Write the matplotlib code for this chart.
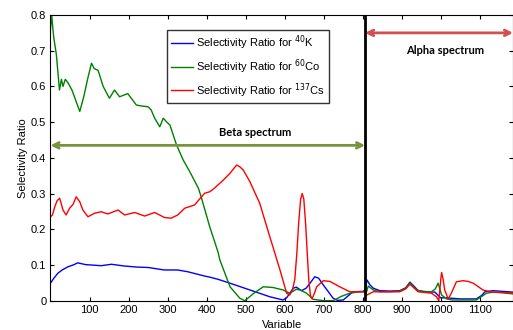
import matplotlib
matplotlib.use("Agg")
import matplotlib.pyplot as plt

plt.rcParams['font.family'] = ['Liberation Sans', 'DejaVu Sans']

# Selectivity ratio for 40K (blue)
k40_x = [0, 8, 19, 30, 45, 58, 70, 78, 90, 104, 130, 156, 190, 224, 250, 292, 326, 352, 395,
         408, 429, 460, 511, 562, 596, 605, 622, 630, 643, 655, 665, 677, 687, 699, 712, 724,
         735, 750, 775, 801, 806, 811, 818, 827, 844, 870, 895, 910, 921, 932, 942, 965, 985,
         993, 1000, 1015, 1050, 1091, 1105, 1113, 1134, 1160, 1185]
k40_y = [0.049, 0.062, 0.077, 0.086, 0.095, 0.100, 0.106, 0.104, 0.101, 0.100, 0.098, 0.102,
         0.097, 0.094, 0.093, 0.086, 0.086, 0.081, 0.069, 0.066, 0.060, 0.049, 0.030, 0.011,
         0.002, 0.008, 0.035, 0.038, 0.028, 0.035, 0.049, 0.067, 0.063, 0.044, 0.025, 0.007,
         0.001, 0.002, 0.025, 0.026, 0.030, 0.058, 0.045, 0.035, 0.028, 0.027, 0.028, 0.036,
         0.052, 0.040, 0.028, 0.025, 0.024, 0.015, 0.008, 0.008, 0.005, 0.005, 0.015, 0.025,
         0.028, 0.026, 0.024]

# Selectivity ratio for 60Co (green)
co60_x = [0, 3, 8, 15, 23, 28, 32, 38, 45, 50, 55, 65, 75, 85, 95, 105, 112, 122, 135, 151,
          164, 177, 198, 220, 235, 250, 258, 267, 280, 289, 298, 306, 323, 340, 357, 379, 386,
          408, 429, 434, 460, 485, 498, 520, 545, 570, 596, 613, 630, 640, 656, 673, 700, 724,
          745, 767, 790, 805, 810, 814, 827, 844, 870, 895, 910, 921, 930, 938, 955, 976, 986,
          993, 997, 1002, 1015, 1030, 1091, 1105, 1117, 1134, 1160, 1185]
co60_y = [0.76, 0.80, 0.74, 0.69, 0.59, 0.62, 0.60, 0.62, 0.61, 0.60, 0.59, 0.56, 0.53, 0.57,
          0.62, 0.665, 0.65, 0.645, 0.60, 0.567, 0.59, 0.571, 0.58, 0.548, 0.545, 0.543, 0.534,
          0.511, 0.487, 0.511, 0.50, 0.492, 0.436, 0.394, 0.361, 0.315, 0.291, 0.207, 0.137,
          0.114, 0.039, 0.007, 0.0, 0.020, 0.039, 0.037, 0.030, 0.021, 0.032, 0.030, 0.021,
          0.004, 0.0, 0.0, 0.012, 0.021, 0.025, 0.025, 0.025, 0.041, 0.030, 0.025, 0.025, 0.027,
          0.035, 0.050, 0.040, 0.030, 0.025, 0.025, 0.033, 0.049, 0.035, 0.016, 0.005, 0.002,
          0.002, 0.012, 0.021, 0.024, 0.022, 0.019]

# Selectivity ratio for 137Cs (red)
cs137_x = [0, 5, 11, 17, 23.5, 28, 32, 40, 49, 58, 66, 75, 83, 96, 113, 130, 147, 173, 190,
           216, 241, 267, 292, 309, 326, 344, 369, 395, 408, 420, 443, 460, 477, 485, 494, 511,
           536, 562, 588, 605, 613, 620, 626, 631, 636, 641, 645, 649, 654, 658, 662, 666, 670,
           676, 682, 699, 716, 741, 767, 801, 806, 811, 827, 870, 895, 910, 921, 932, 942, 976,
           989, 995, 1000, 1002, 1006, 1010, 1019, 1027, 1040, 1057, 1070, 1083, 1108, 1130,
           1160, 1185]
cs137_y = [0.235, 0.24, 0.263, 0.28, 0.287, 0.27, 0.254, 0.24, 0.259, 0.27, 0.291, 0.277,
           0.254, 0.235, 0.245, 0.249, 0.243, 0.254, 0.24, 0.247, 0.237, 0.247, 0.233, 0.231,
           0.24, 0.259, 0.268, 0.301, 0.305, 0.315, 0.338, 0.357, 0.38, 0.375, 0.366, 0.333,
           0.273, 0.179, 0.086, 0.021, 0.016, 0.030, 0.060, 0.13, 0.22, 0.285, 0.30, 0.285,
           0.21, 0.13, 0.055, 0.015, 0.005, 0.020, 0.039, 0.056, 0.054, 0.039, 0.025, 0.025,
           0.025, 0.016, 0.025, 0.025, 0.025, 0.033, 0.046, 0.035, 0.025, 0.021, 0.011, 0.0,
           0.06, 0.079, 0.06, 0.03, 0.005, 0.021, 0.053, 0.056, 0.054, 0.049, 0.03, 0.024,
           0.023, 0.022]

boundary = 806
beta_y = 0.435
alpha_y = 0.75

fig = plt.figure(figsize=(5.13, 3.30), dpi=100)
ax = fig.add_axes([0.0984, 0.0888, 0.9016, 0.8657])

ax.plot(k40_x, k40_y, color='b', lw=1, label='Selectivity Ratio for $^{40}$K')
ax.plot(co60_x, co60_y, color='g', lw=1, label='Selectivity Ratio for $^{60}$Co')
ax.plot(cs137_x, cs137_y, color='r', lw=1, label='Selectivity Ratio for $^{137}$Cs')

ax.axvline(boundary, color='k', lw=2)

ax.annotate('', xy=(0, beta_y), xytext=(boundary, beta_y),
            arrowprops=dict(arrowstyle='<->', color='#77933C', lw=2, shrinkA=0, shrinkB=0))
ax.annotate('', xy=(boundary, alpha_y), xytext=(1185, alpha_y),
            arrowprops=dict(arrowstyle='<->', color='#D05050', lw=2, shrinkA=0, shrinkB=0))
ax.text(524, 0.47, 'Beta spectrum', ha='center', va='center', fontsize=8,
        fontweight='bold', family='Lato')
ax.text(1011, 0.70, 'Alpha spectrum', ha='center', va='center', fontsize=8,
        fontweight='bold', family='Lato')

ax.set_xlim(0, 1185)
ax.set_ylim(0, 0.8)
ax.set_xticks([100, 200, 300, 400, 500, 600, 700, 800, 900, 1000, 1100])
ax.set_yticks([0, 0.1, 0.2, 0.3, 0.4, 0.5, 0.6, 0.7, 0.8])
ax.set_yticklabels(['0', '0.1', '0.2', '0.3', '0.4', '0.5', '0.6', '0.7', '0.8'])
ax.tick_params(direction='in', top=True, right=True, labelsize=8, length=3, pad=3)
ax.set_xlabel('Variable', fontsize=8, labelpad=4)
ax.set_ylabel('Selectivity Ratio', fontsize=8, labelpad=2)

leg = ax.legend(loc='upper left', bbox_to_anchor=(0.252, 0.948), fontsize=8,
                frameon=True, fancybox=False, edgecolor='k', handlelength=2.0,
                borderpad=0.35, labelspacing=0.45, handletextpad=0.25, borderaxespad=0)
leg.get_frame().set_linewidth(1)

fig.savefig('out.png', dpi=100)
